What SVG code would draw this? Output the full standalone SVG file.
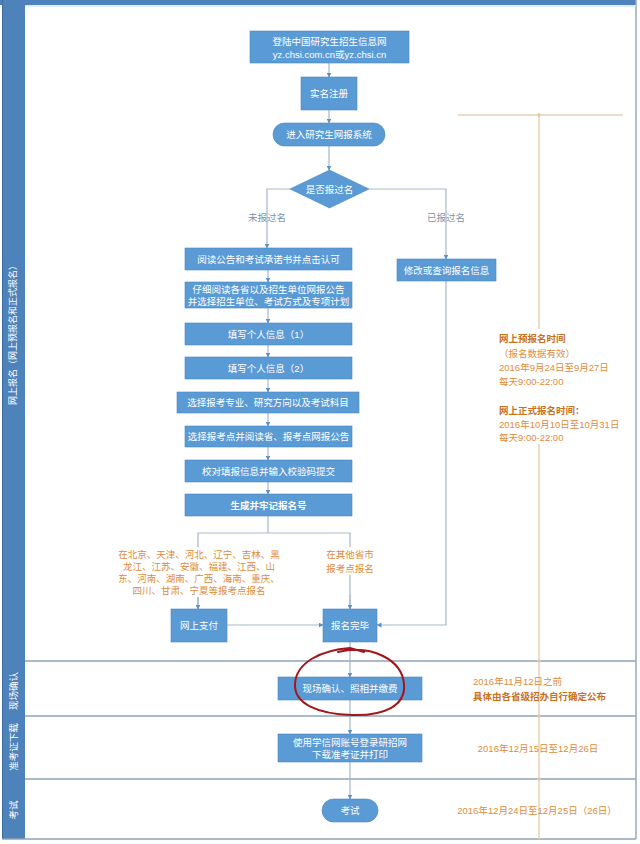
<svg xmlns="http://www.w3.org/2000/svg" width="640" height="844" viewBox="0 0 640 844">
<defs>
<style>
.node{fill:#5b9bd5;stroke:#4a86c0;stroke-width:0.6}
.nt{font-family:"Liberation Sans","Noto Sans CJK SC",sans-serif;font-size:9.5px;fill:#ffffff;text-anchor:middle;dominant-baseline:central}
.ntb{font-weight:bold}
.conn{fill:none;stroke:#a8b8c8;stroke-width:1.2}
.lab{font-family:"Liberation Sans","Noto Sans CJK SC",sans-serif;font-size:9.5px;fill:#7d93ab;text-anchor:middle;dominant-baseline:central}
.or{font-family:"Liberation Sans","Noto Sans CJK SC",sans-serif;font-size:9.5px;fill:#de8c3c;dominant-baseline:central}
.orb{font-weight:bold;fill:#c9701d}
.lane{font-family:"Liberation Sans","Noto Sans CJK SC",sans-serif;font-size:9px;fill:#ffffff;text-anchor:middle;dominant-baseline:central}
.div{stroke:#8fa3b8;stroke-width:1.5}
.tl{stroke:#e6d3b3;stroke-width:1.5;fill:none}
.bg{fill:#ffffff}
</style>
<marker id="ah" viewBox="0 0 10 10" refX="9" refY="5" markerWidth="5" markerHeight="5" orient="auto" markerUnits="userSpaceOnUse">
<path d="M0,0 L10,5 L0,10 z" fill="#5b8fc7"/>
</marker>
</defs>
<rect x="0" y="0" width="640" height="844" fill="#ffffff"/>
<g id="frame">
<rect x="0" y="0" width="636" height="5" fill="#4f81bd"/>
<rect x="2" y="0" width="23" height="839" fill="#4e82bb"/>
<line x1="2.5" y1="0" x2="2.5" y2="839" stroke="#3d6a9c" stroke-width="1"/>
<line x1="636" y1="0" x2="636" y2="839" stroke="#9aaabb" stroke-width="1.5"/>
<line x1="25" y1="6" x2="636" y2="6" stroke="#d9e6f2" stroke-width="1.5"/>
<line class="div" x1="25" y1="661" x2="636" y2="661"/>
<line class="div" x1="25" y1="716" x2="636" y2="716"/>
<line class="div" x1="25" y1="779" x2="636" y2="779"/>
<line class="div" x1="2" y1="839" x2="636" y2="839"/>
<text class="lane" transform="translate(13,333) rotate(-90)">网上报名（网上预报名和正式报名）</text>
<text class="lane" transform="translate(13,691) rotate(-90)" style="font-size:9.5px">现场确认</text>
<text class="lane" transform="translate(13,747) rotate(-90)" style="font-size:9.5px">准考证下载</text>
<text class="lane" transform="translate(13,810) rotate(-90)" style="font-size:9.5px">考试</text>
</g>
<g id="timeline">
<line class="tl" x1="458" y1="115" x2="623" y2="115"/>
<line class="tl" x1="539" y1="115" x2="539" y2="839"/>
<circle cx="539" cy="115" r="1.8" fill="#e0c9a5"/>
<circle cx="539" cy="661" r="1.8" fill="#e0c9a5"/>
<circle cx="539" cy="716" r="1.8" fill="#e0c9a5"/>
<circle cx="539" cy="779" r="1.8" fill="#e0c9a5"/>
<rect class="bg" x="495" y="329" width="120" height="115"/>
</g>
<g id="connectors">
<line class="conn" x1="329" y1="63" x2="329" y2="77" marker-end="url(#ah)"/>
<line class="conn" x1="329" y1="110" x2="329" y2="123" marker-end="url(#ah)"/>
<line class="conn" x1="329" y1="146" x2="329" y2="170" marker-end="url(#ah)"/>
<polyline class="conn" points="290,189 267,189 267,248" marker-end="url(#ah)"/>
<polyline class="conn" points="369,189 446,189 446,259" marker-end="url(#ah)"/>
<line class="conn" x1="268" y1="270" x2="268" y2="282" marker-end="url(#ah)"/>
<line class="conn" x1="268" y1="308" x2="268" y2="323" marker-end="url(#ah)"/>
<line class="conn" x1="268" y1="345" x2="268" y2="357" marker-end="url(#ah)"/>
<line class="conn" x1="268" y1="379" x2="268" y2="392" marker-end="url(#ah)"/>
<line class="conn" x1="268" y1="413" x2="268" y2="426" marker-end="url(#ah)"/>
<line class="conn" x1="268" y1="447" x2="268" y2="460" marker-end="url(#ah)"/>
<line class="conn" x1="268" y1="482" x2="268" y2="494" marker-end="url(#ah)"/>
<polyline class="conn" points="268,516 268,533"/>
<polyline class="conn" points="198,609 198,533 350,533 350,609"/>
<line class="conn" x1="198" y1="595" x2="198" y2="609" marker-end="url(#ah)"/>
<line class="conn" x1="350" y1="595" x2="350" y2="609" marker-end="url(#ah)"/>
<line class="conn" x1="227" y1="625" x2="323" y2="625" marker-end="url(#ah)"/>
<polyline class="conn" points="446,281 446,625 377,625" marker-end="url(#ah)"/>
<line class="conn" x1="350" y1="642" x2="350" y2="677" marker-end="url(#ah)"/>
<line class="conn" x1="350" y1="700" x2="350" y2="734" marker-end="url(#ah)"/>
<line class="conn" x1="350" y1="762" x2="350" y2="799" marker-end="url(#ah)"/>
<text class="lab" x="267" y="217">未报过名</text>
<text class="lab" x="446" y="217">已报过名</text>
<rect class="bg" x="114" y="547" width="170" height="50"/>
<rect class="bg" x="323" y="547" width="54" height="28"/>
<text class="or" x="199" y="554" text-anchor="middle">在北京、天津、河北、辽宁、吉林、黑</text>
<text class="or" x="199" y="566" text-anchor="middle">龙江、江苏、安徽、福建、江西、山</text>
<text class="or" x="199" y="578" text-anchor="middle">东、河南、湖南、广西、海南、重庆、</text>
<text class="or" x="199" y="590" text-anchor="middle">四川、甘肃、宁夏等报考点报名</text>
<text class="or" x="350" y="554" text-anchor="middle">在其他省市</text>
<text class="or" x="350" y="568" text-anchor="middle">报考点报名</text>
</g>
<g id="n1"><rect class="node" x="250" y="31" width="159" height="32"/><text class="nt" x="329.5" y="41">登陆中国研究生招生信息网</text><text class="nt" x="329.5" y="54">yz.chsi.com.cn或yz.chsi.cn</text></g>
<g id="n2"><rect class="node" x="301" y="77" width="56" height="33"/><text class="nt" x="329" y="93.5">实名注册</text></g>
<g id="n3"><rect class="node" x="273" y="123" width="112" height="23" rx="11.5"/><text class="nt" x="329" y="134.5">进入研究生网报系统</text></g>
<g id="n4"><polygon class="node" points="329.5,170 369,189 329.5,208 290,189"/><text class="nt" x="329.5" y="189">是否报过名</text></g>
<g id="n5"><rect class="node" x="185" y="248" width="167" height="22"/><text class="nt" x="268.5" y="259">阅读公告和考试承诺书并点击认可</text></g>
<g id="n6"><rect class="node" x="397" y="259" width="99" height="22"/><text class="nt" x="446.5" y="270">修改或查询报名信息</text></g>
<g id="n7"><rect class="node" x="185" y="282" width="167" height="26"/><text class="nt" x="268.5" y="289.5">仔细阅读各省以及招生单位网报公告</text><text class="nt" x="268.5" y="301">并选择招生单位、考试方式及专项计划</text></g>
<g id="n8"><rect class="node" x="185" y="323" width="167" height="22"/><text class="nt" x="268.5" y="334">填写个人信息（1）</text></g>
<g id="n9"><rect class="node" x="185" y="357" width="167" height="22"/><text class="nt" x="268.5" y="368">填写个人信息（2）</text></g>
<g id="n10"><rect class="node" x="177" y="392" width="182" height="21"/><text class="nt" x="268" y="402.5">选择报考专业、研究方向以及考试科目</text></g>
<g id="n11"><rect class="node" x="185" y="426" width="167" height="21"/><text class="nt" x="268.5" y="436.5">选择报考点并阅读省、报考点网报公告</text></g>
<g id="n12"><rect class="node" x="185" y="460" width="167" height="22"/><text class="nt" x="268.5" y="471">校对填报信息并输入校验码提交</text></g>
<g id="n13"><rect class="node" x="185" y="494" width="167" height="22"/><text class="nt ntb" x="268.5" y="505">生成并牢记报名号</text></g>
<g id="n14"><rect class="node" x="171" y="609" width="56" height="33"/><text class="nt" x="199" y="625.5">网上支付</text></g>
<g id="n15"><rect class="node" x="323" y="609" width="54" height="33"/><text class="nt" x="350" y="625.5">报名完毕</text></g>
<g id="n16"><rect class="node" x="278" y="677" width="144" height="23"/><text class="nt" x="350" y="688.5">现场确认、照相并缴费</text></g>
<g id="n17"><rect class="node" x="278" y="734" width="144" height="28"/><text class="nt" x="350" y="742">使用学信网账号登录研招网</text><text class="nt" x="350" y="754">下载准考证并打印</text></g>
<g id="n18"><rect class="node" x="322" y="799" width="56" height="23" rx="11.5"/><text class="nt" x="350" y="810.5">考试</text></g>
<g id="mark">
<path d="M338,652 C372,644 402,660 404,684 C406,706 384,716 352,715 C318,714 294,704 295,684 C296,662 322,650 350,648 L364,652" fill="none" stroke="#a3161b" stroke-width="2" stroke-linecap="round"/>
</g>
<g id="notes">
<text class="or orb" x="499" y="338">网上预报名时间</text>
<text class="or" x="499" y="353">（报名数据有效）</text>
<text class="or" x="499" y="367">2016年9月24日至9月27日</text>
<text class="or" x="499" y="381">每天9:00-22:00</text>
<text class="or orb" x="499" y="410">网上正式报名时间：</text>
<text class="or" x="499" y="424">2016年10月10日至10月31日</text>
<text class="or" x="499" y="437">每天9:00-22:00</text>
<text class="or" x="473" y="681">2016年11月12日之前</text>
<text class="or orb" x="473" y="696">具体由各省级招办自行确定公布</text>
<text class="or" x="538" y="748" text-anchor="middle">2016年12月15日至12月26日</text>
<text class="or" x="537" y="810" text-anchor="middle">2016年12月24日至12月25日（26日）</text>
</g>
</svg>
